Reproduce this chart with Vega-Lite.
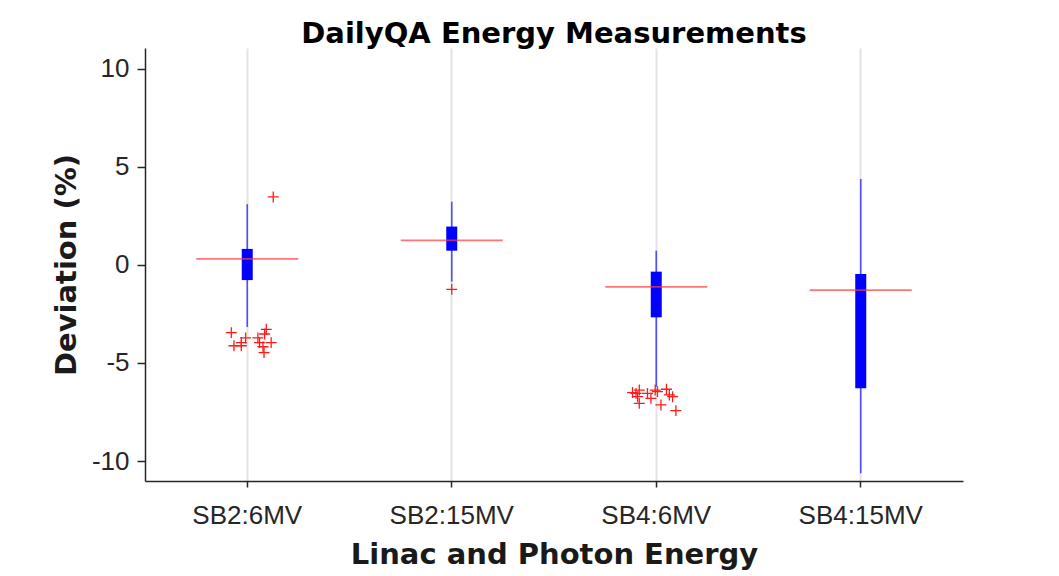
{
  "$schema": "https://vega.github.io/schema/vega-lite/v6.json",
  "width": 818,
  "height": 433,
  "autosize": "none",
  "padding": {"left": 145, "top": 48, "right": 96, "bottom": 95},
  "background": "white",
  "title": {"text": "DailyQA Energy Measurements", "font": "DejaVu Sans", "fontWeight": "bold", "fontSize": 29, "color": "#000000", "anchor": "middle", "offset": -1},
  "config": {
    "view": {"stroke": null},
    "axis": {
      "labelFont": "Liberation Sans",
      "labelFontSize": 26,
      "labelColor": "#262626",
      "titleFont": "DejaVu Sans",
      "titleFontWeight": "bold",
      "titleFontSize": 29,
      "titleColor": "#1a1a1a",
      "domainColor": "#262626",
      "domainWidth": 1.5,
      "tickColor": "#262626",
      "tickWidth": 1.5
    }
  },
  "datasets": {
    "stats": [
      {"group": "SB2:6MV", "lower": -3.16, "q1": -0.77, "median": 0.31, "q3": 0.82, "upper": 3.1},
      {"group": "SB2:15MV", "lower": -0.85, "q1": 0.73, "median": 1.26, "q3": 1.96, "upper": 3.23},
      {"group": "SB4:6MV", "lower": -6.21, "q1": -2.67, "median": -1.12, "q3": -0.34, "upper": 0.73},
      {"group": "SB4:15MV", "lower": -10.63, "q1": -6.29, "median": -1.28, "q3": -0.46, "upper": 4.39}
    ],
    "outliers": [
      {"group": "SB2:6MV", "value": 3.47, "jitter": 0.127},
      {"group": "SB2:6MV", "value": -3.45, "jitter": -0.078},
      {"group": "SB2:6MV", "value": -4.12, "jitter": -0.065},
      {"group": "SB2:6MV", "value": -4.12, "jitter": -0.029},
      {"group": "SB2:6MV", "value": -3.72, "jitter": -0.008},
      {"group": "SB2:6MV", "value": -3.96, "jitter": -0.029},
      {"group": "SB2:6MV", "value": -3.72, "jitter": 0.052},
      {"group": "SB2:6MV", "value": -3.28, "jitter": 0.093},
      {"group": "SB2:6MV", "value": -3.52, "jitter": 0.085},
      {"group": "SB2:6MV", "value": -3.96, "jitter": 0.06},
      {"group": "SB2:6MV", "value": -3.96, "jitter": 0.117},
      {"group": "SB2:6MV", "value": -4.17, "jitter": 0.077},
      {"group": "SB2:6MV", "value": -4.47, "jitter": 0.082},
      {"group": "SB2:15MV", "value": -1.24, "jitter": 0.0},
      {"group": "SB4:6MV", "value": -6.38, "jitter": -0.083},
      {"group": "SB4:6MV", "value": -6.55, "jitter": -0.099},
      {"group": "SB4:6MV", "value": -6.72, "jitter": -0.091},
      {"group": "SB4:6MV", "value": -6.51, "jitter": -0.116},
      {"group": "SB4:6MV", "value": -6.55, "jitter": -0.043},
      {"group": "SB4:6MV", "value": -6.8, "jitter": -0.026},
      {"group": "SB4:6MV", "value": -7.06, "jitter": -0.083},
      {"group": "SB4:6MV", "value": -6.38, "jitter": -0.005},
      {"group": "SB4:6MV", "value": -6.46, "jitter": 0.006},
      {"group": "SB4:6MV", "value": -6.34, "jitter": 0.05},
      {"group": "SB4:6MV", "value": -6.63, "jitter": 0.064},
      {"group": "SB4:6MV", "value": -6.72, "jitter": 0.08},
      {"group": "SB4:6MV", "value": -7.14, "jitter": 0.023},
      {"group": "SB4:6MV", "value": -7.43, "jitter": 0.096}
    ]
  },
  "encoding": {
    "x": {
      "field": "group",
      "type": "nominal",
      "sort": ["SB2:6MV", "SB2:15MV", "SB4:6MV", "SB4:15MV"],
      "scale": {"paddingInner": 0, "paddingOuter": 0},
      "axis": {
        "title": "Linac and Photon Energy",
        "labelAngle": 0,
        "grid": true,
        "gridColor": "#e3e3e3",
        "gridWidth": 2,
        "tickSize": 6,
        "labelPadding": 15,
        "titlePadding": 12
      }
    }
  },
  "layer": [
    {
      "data": {"name": "stats"},
      "mark": {"type": "rule", "color": "#4d4dff", "strokeWidth": 1.6},
      "encoding": {
        "y": {
          "field": "lower",
          "type": "quantitative",
          "scale": {"domain": [-11.02, 11.07], "nice": false, "zero": false},
          "axis": {"title": "Deviation (%)", "values": [-10, -5, 0, 5, 10], "labelExpr": "'' + datum.value", "grid": false, "tickSize": 8, "labelPadding": 8, "titlePadding": 10}
        },
        "y2": {"field": "upper"}
      }
    },
    {
      "data": {"name": "stats"},
      "mark": {"type": "bar", "width": 11, "color": "#0000ff"},
      "encoding": {
        "y": {"field": "q1", "type": "quantitative"},
        "y2": {"field": "q3"}
      }
    },
    {
      "data": {"name": "stats"},
      "mark": {"type": "tick", "orient": "horizontal", "size": 102, "thickness": 1.8, "color": "#ff3b3b"},
      "encoding": {
        "y": {"field": "median", "type": "quantitative"}
      }
    },
    {
      "data": {"name": "outliers"},
      "mark": {"type": "point", "shape": "M-1,0L1,0M0,-1L0,1", "size": 120, "filled": false, "color": "#ff1a1a", "strokeWidth": 1.3, "opacity": 1},
      "encoding": {
        "xOffset": {"field": "jitter", "type": "quantitative", "scale": {"domain": [-0.5, 0.5]}},
        "y": {"field": "value", "type": "quantitative"}
      }
    }
  ]
}
